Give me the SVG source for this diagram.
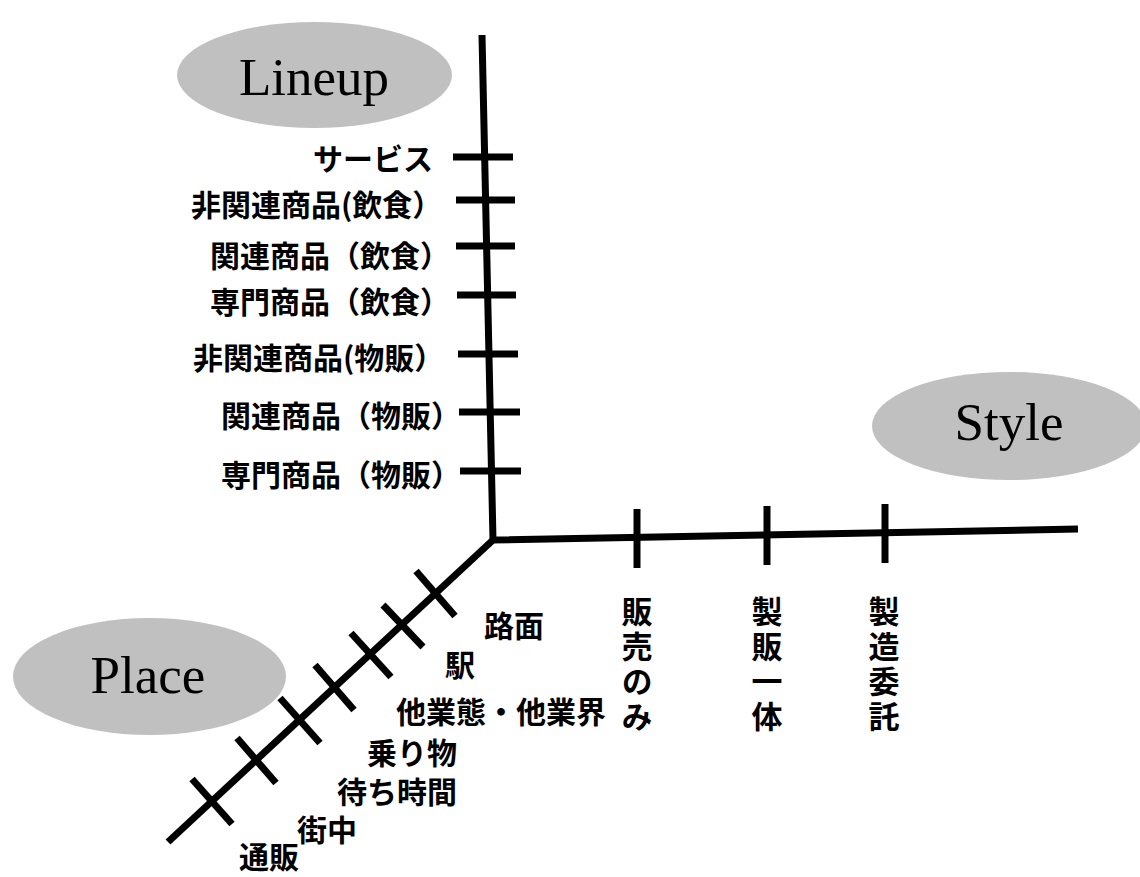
<svg xmlns="http://www.w3.org/2000/svg" width="1140" height="877" viewBox="0 0 1140 877">
<style>
.bg{fill:#ffffff}
.oval{fill:#c0c0c0;stroke:none}
.title{font-family:"Liberation Serif","Times New Roman",serif;font-size:53px;fill:#000;text-anchor:middle}
.jp{font-family:"Noto Sans CJK JP","Noto Sans CJK SC",sans-serif;font-size:30px;font-weight:bold;fill:#000}
.jv{font-family:"Noto Sans CJK JP","Noto Sans CJK SC",sans-serif;font-size:31px;font-weight:bold;fill:#000;writing-mode:vertical-rl;letter-spacing:4px}
.axis{stroke:#000;stroke-width:7;fill:none;stroke-linecap:butt;stroke-linejoin:miter}
.tick{stroke:#000;stroke-width:7;fill:none;stroke-linecap:butt}
</style>
<rect class="bg" x="0" y="0" width="1140" height="877"/>

<g id="lineup">
  <ellipse class="oval" cx="314.5" cy="75" rx="137.5" ry="53"/>
  <text class="title" x="314" y="95">Lineup</text>
</g>
<g id="style">
  <ellipse class="oval" cx="1009" cy="426" rx="137" ry="54"/>
  <text class="title" x="1009" y="440">Style</text>
</g>
<g id="place">
  <ellipse class="oval" cx="149.5" cy="676.5" rx="136.5" ry="58.5"/>
  <text class="title" x="148" y="693">Place</text>
</g>

<g id="connectors">
  <polyline class="axis" points="482,35 493,540 1078,529"/>
  <line class="axis" x1="493" y1="540" x2="168" y2="842"/>
  <!-- lineup ticks -->
  <line class="tick" x1="453" y1="157" x2="513" y2="157"/>
  <line class="tick" x1="456" y1="200" x2="515" y2="200"/>
  <line class="tick" x1="456" y1="246" x2="515" y2="246"/>
  <line class="tick" x1="457" y1="295" x2="516" y2="295"/>
  <line class="tick" x1="458" y1="354" x2="518" y2="354"/>
  <line class="tick" x1="459" y1="412" x2="520" y2="412"/>
  <line class="tick" x1="460" y1="471" x2="521" y2="471"/>
  <!-- style ticks -->
  <line class="tick" x1="637" y1="509" x2="637" y2="568"/>
  <line class="tick" x1="767" y1="506" x2="767" y2="565"/>
  <line class="tick" x1="885" y1="504" x2="885" y2="563"/>
  <!-- place ticks -->
  <line class="tick" x1="416" y1="571" x2="455" y2="616"/>
  <line class="tick" x1="383" y1="605" x2="423" y2="647"/>
  <line class="tick" x1="351" y1="633" x2="391" y2="677"/>
  <line class="tick" x1="315" y1="665" x2="354" y2="710"/>
  <line class="tick" x1="280" y1="698" x2="320" y2="743"/>
  <line class="tick" x1="237" y1="738" x2="276" y2="783"/>
  <line class="tick" x1="192" y1="779" x2="232" y2="824"/>
</g>

<g id="lineup-labels">
  <g id="l-service"><text class="jp" x="313" y="170">サービス</text></g>
  <g id="l-unrel-food"><text class="jp" x="191" y="216">非関連商品(飲食）</text></g>
  <g id="l-rel-food"><text class="jp" x="210" y="267">関連商品（飲食）</text></g>
  <g id="l-spec-food"><text class="jp" x="210" y="313">専門商品（飲食）</text></g>
  <g id="l-unrel-goods"><text class="jp" x="193" y="369">非関連商品(物販）</text></g>
  <g id="l-rel-goods"><text class="jp" x="221" y="427">関連商品（物販）</text></g>
  <g id="l-spec-goods"><text class="jp" x="221" y="486">専門商品（物販）</text></g>
</g>

<g id="place-labels">
  <g id="p-road"><text class="jp" x="484" y="637">路面</text></g>
  <g id="p-station"><text class="jp" x="445" y="676">駅</text></g>
  <g id="p-other"><text class="jp" x="396" y="723">他業態・他業界</text></g>
  <g id="p-vehicle"><text class="jp" x="367" y="764">乗り物</text></g>
  <g id="p-wait"><text class="jp" x="337" y="803">待ち時間</text></g>
  <g id="p-town"><text class="jp" x="297" y="841">街中</text></g>
  <g id="p-mail"><text class="jp" x="239" y="868">通販</text></g>
</g>

<g id="style-labels">
  <g id="s-sales"><text class="jv" x="637" y="596">販売のみ</text></g>
  <g id="s-integrated"><text class="jv" x="767" y="596">製販一体</text></g>
  <g id="s-oem"><text class="jv" x="884" y="596">製造委託</text></g>
</g>
</svg>
